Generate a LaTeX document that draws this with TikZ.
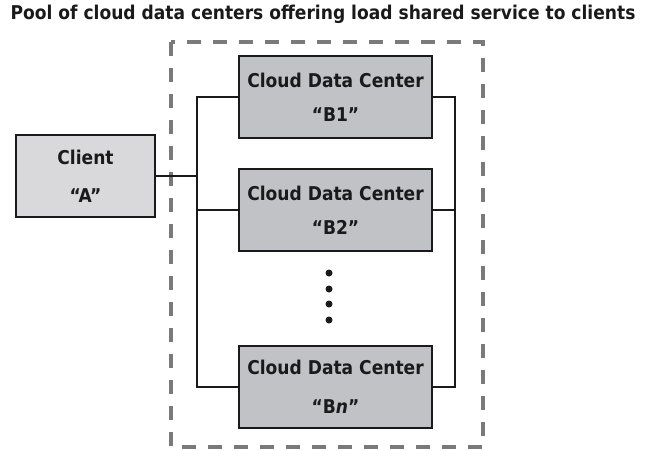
\documentclass[tikz,border=0pt]{standalone}
\usepackage{fontspec}
\setmainfont{DejaVu Sans}[FakeStretch=0.9]
\definecolor{bfill}{HTML}{C1C2C6}
\definecolor{cfill}{HTML}{D9D9DB}
\definecolor{dashgray}{HTML}{7A7A7A}
\definecolor{ink}{HTML}{1A1A1A}
\begin{document}
\begin{tikzpicture}[x=1pt,y=-1pt,
  box/.style={draw=ink,line width=2pt,minimum width=193pt,minimum height=82pt,fill=bfill,inner sep=0pt,align=center,font=\bfseries\fontsize{19}{34}\selectfont,text=ink},
  cbox/.style={box,fill=cfill,minimum width=139pt,font=\bfseries\fontsize{19}{38}\selectfont},
  wire/.style={draw=ink,line width=2pt},
  dotn/.style={circle,fill=ink,inner sep=0pt,minimum size=7pt}]
\useasboundingbox (0,0) rectangle (647,450);
\node[font=\bfseries\fontsize{19}{22}\selectfont,text=ink] (title) at (323,14) {Pool of cloud data centers offering load shared service to clients};
\draw[dashgray,line width=3.5pt,dash pattern=on 14pt off 12pt] (171,42) rectangle (483,447);
\node[cbox] (client) at (85.5,176) {Client\\``A''};
\node[box] (b1) at (335.5,97) {Cloud Data Center\\``B1''};
\node[box] (b2) at (335.5,210) {Cloud Data Center\\``B2''};
\node[box,font=\bfseries\fontsize{19}{39}\selectfont] (bn) at (335.5,387) {Cloud Data Center\\``B\textit{n}''};
\coordinate (lt) at (196.5,97);
\coordinate (lb) at (196.5,387);
\coordinate (rt) at (454.5,97);
\coordinate (rb) at (454.5,387);
\draw[wire] (b1.west) -- (lt) -- (lb) -- (bn.west);
\draw[wire] (b1.east) -- (rt) -- (rb) -- (bn.east);
\draw[wire] (b2.west) -- (b2.west -| lt);
\draw[wire] (b2.east) -- (b2.east -| rt);
\draw[wire] (client.east) -- (client.east -| lt);
\node[dotn] (d1) at (329,273) {};
\node[dotn] (d2) at (329,289) {};
\node[dotn] (d3) at (329,304) {};
\node[dotn] (d4) at (329,320) {};
\end{tikzpicture}
\end{document}
